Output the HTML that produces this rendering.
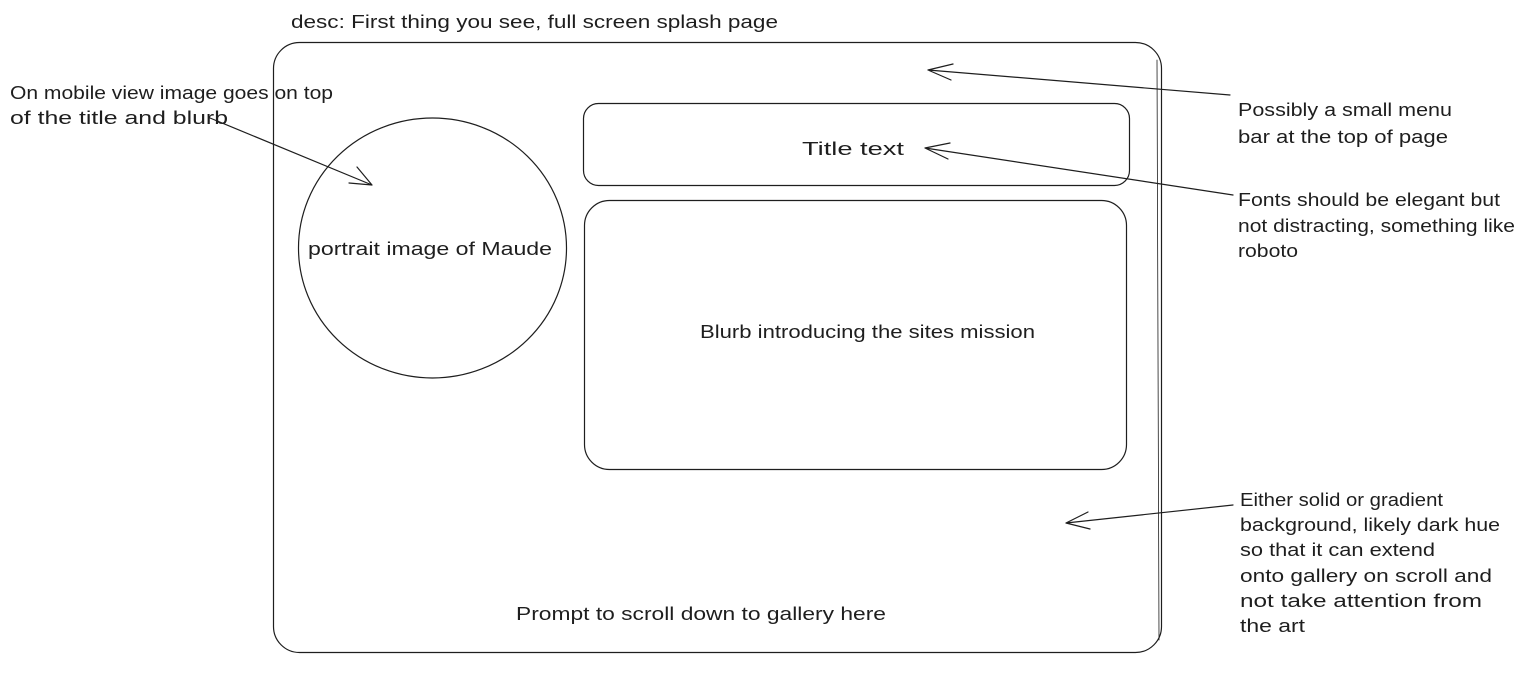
<!DOCTYPE html>
<html><head><meta charset="utf-8"><style>
html,body{margin:0;padding:0;background:#fff;}
svg{display:block}
text{font-family:"Liberation Sans",sans-serif;font-size:18px;fill:#1e1e1e;}
</style></head><body>
<svg width="1524" height="673" viewBox="0 0 1524 673" xmlns="http://www.w3.org/2000/svg">
<g fill="none" stroke="#1e1e1e" stroke-width="1.2" stroke-linecap="round">
<rect x="273.5" y="42.5" width="888" height="610" rx="26"/>
<path d="M1157 60 L1159 640" stroke-width="0.8"/>
<ellipse cx="432.5" cy="248" rx="134" ry="130"/>
<rect x="583.5" y="103.5" width="546" height="82" rx="15"/>
<rect x="584.5" y="200.5" width="542" height="269" rx="25"/>
<path d="M210 118 L372 185 M372 185 L349 183 M372 185 L357 167"/>
<path d="M1230 95 L928 70 M928 70 L953 64 M928 70 L951 80"/>
<path d="M1233 195 L925 148 M925 148 L950 143 M925 148 L948 159"/>
<path d="M1233 505 L1066 523 M1066 523 L1088 512 M1066 523 L1090 529"/>
</g>
<text x="291" y="28" textLength="487" lengthAdjust="spacingAndGlyphs">desc: First thing you see, full screen splash page</text>
<text x="10" y="99" textLength="323" lengthAdjust="spacingAndGlyphs">On mobile view image goes on top</text>
<text x="10" y="124" textLength="218" lengthAdjust="spacingAndGlyphs">of the title and blurb</text>
<text x="308" y="255" textLength="244" lengthAdjust="spacingAndGlyphs">portrait image of Maude</text>
<text x="802" y="155" textLength="102" lengthAdjust="spacingAndGlyphs">Title text</text>
<text x="700" y="338" textLength="335" lengthAdjust="spacingAndGlyphs">Blurb introducing the sites mission</text>
<text x="516" y="620" textLength="370" lengthAdjust="spacingAndGlyphs">Prompt to scroll down to gallery here</text>
<text x="1238" y="116" textLength="214" lengthAdjust="spacingAndGlyphs">Possibly a small menu</text>
<text x="1238" y="143" textLength="210" lengthAdjust="spacingAndGlyphs">bar at the top of page</text>
<text x="1238" y="206" textLength="262" lengthAdjust="spacingAndGlyphs">Fonts should be elegant but</text>
<text x="1238" y="232" textLength="277" lengthAdjust="spacingAndGlyphs">not distracting, something like</text>
<text x="1238" y="257" textLength="60" lengthAdjust="spacingAndGlyphs">roboto</text>
<text x="1240" y="506" textLength="203" lengthAdjust="spacingAndGlyphs">Either solid or gradient</text>
<text x="1240" y="531" textLength="260" lengthAdjust="spacingAndGlyphs">background, likely dark hue</text>
<text x="1240" y="556" textLength="195" lengthAdjust="spacingAndGlyphs">so that it can extend</text>
<text x="1240" y="582" textLength="252" lengthAdjust="spacingAndGlyphs">onto gallery on scroll and</text>
<text x="1240" y="607" textLength="242" lengthAdjust="spacingAndGlyphs">not take attention from</text>
<text x="1240" y="632" textLength="65" lengthAdjust="spacingAndGlyphs">the art</text>
</svg>
</body></html>
